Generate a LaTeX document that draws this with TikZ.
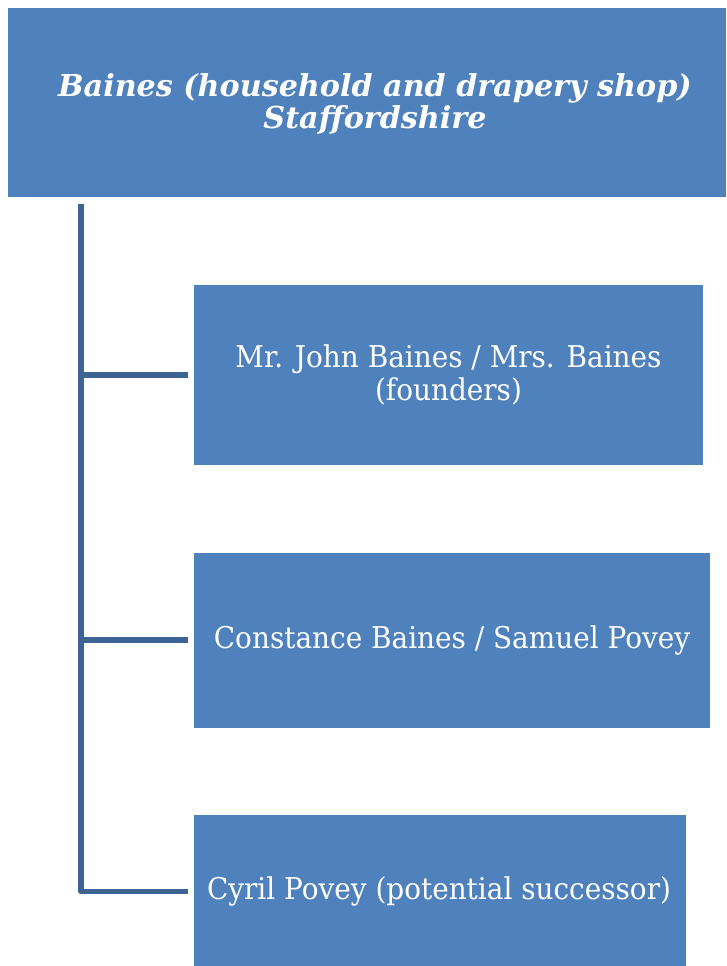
\documentclass[tikz,border=0pt]{standalone}
\usepackage{fontspec}
\setmainfont{DejaVu Serif}
\newfontfamily\bodyfont[FakeStretch=0.93]{DejaVu Serif}
\definecolor{boxfill}{HTML}{4F81BD}
\definecolor{linec}{HTML}{3E6494}
\begin{document}
\begin{tikzpicture}[x=1pt,y=-1pt,
  box/.style={fill=boxfill,draw=none},
  lbl/.style={text=white,align=center,inner sep=0pt,font=\bodyfont\fontsize{30}{33}\selectfont},
  conn/.style={draw=linec,line width=5.5pt,line join=round}]
\useasboundingbox (0,0) rectangle (726,966);
\fill[box] (8,8) rectangle (726,197);
\node[text=white,align=center,inner sep=0pt,font=\fontsize{30.2}{32.5}\selectfont\bfseries\itshape] (top) at (375,104) {Baines (household and drapery shop)\\Staffordshire};
\fill[box] (194,285) rectangle (703,465);
\node[lbl] (b1) at (448.5,375) {Mr. John Baines / Mrs. Baines\\(founders)};
\fill[box] (194,553) rectangle (710,728);
\node[lbl] (b2) at (452,640.5) {Constance Baines / Samuel Povey};
\fill[box] (194,815) rectangle (686,970);
\node[lbl] (b3) at (439,891) {Cyril Povey (potential successor)};
\coordinate (v0) at (81,204);
\coordinate (v3) at (81,891.5);
\coordinate (h3) at (188,891.5);
\coordinate (v1) at (81,375);
\coordinate (h1) at (188,375);
\coordinate (v2) at (81,640);
\coordinate (h2) at (188,640);
\draw[conn] (v0) -- (v3) -- (h3);
\draw[conn] (v1) -- (h1);
\draw[conn] (v2) -- (h2);
\end{tikzpicture}
\end{document}
